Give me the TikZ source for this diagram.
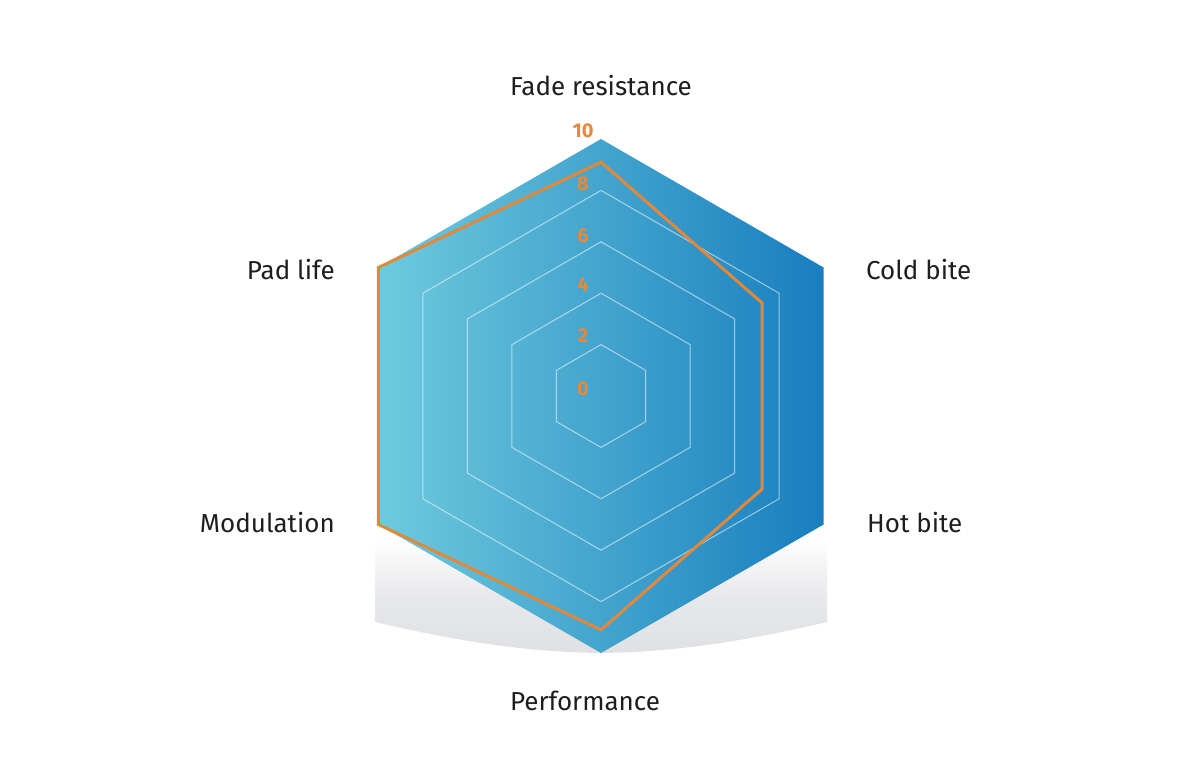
\documentclass[tikz,border=0pt]{standalone}
\usepackage{fontspec}
\setmainfont{Fira Sans}
\definecolor{hexL}{RGB}{110,202,221}
\definecolor{hexR}{RGB}{24,126,190}
\definecolor{dataor}{RGB}{226,136,58}
\definecolor{numor}{RGB}{232,136,56}
\definecolor{txt}{RGB}{30,30,30}
\definecolor{shad}{RGB}{224,225,228}
\begin{document}
\begin{tikzpicture}[x=1pt,y=-1pt,
  axislabel/.style={font=\fontsize{26}{30}\selectfont, text=txt, inner sep=0pt},
  ticklabel/.style={font=\fontsize{20}{24}\selectfont\bfseries, text=numor, inner sep=0pt, anchor=base},
  gridring/.style={draw=white, draw opacity=0.55, line width=1pt},
  dataline/.style={draw=dataor, line width=3pt, line join=miter}]
\useasboundingbox (0,0) rectangle (1200,781);
\def\u{25.7}
% shadow under the hexagon
\shade[top color=white, bottom color=shad, middle color=shad!75!white]
  (375,540) -- (827,540) -- (827,622)
  .. controls (750,640) and (680,652) .. (601,653)
  .. controls (522,652) and (452,640) .. (375,622) -- cycle;
\begin{scope}[shift={(601,396)}]
  % background hexagon
  \shade[left color=hexL, right color=hexR]
    (-90:257) -- (-30:257) -- (30:257) -- (90:257) -- (150:257) -- (210:257) -- cycle;
  % grid rings
  \foreach \v in {2,4,6,8}{
    \draw[gridring] (-90:{\v*\u}) -- (-30:{\v*\u}) -- (30:{\v*\u}) -- (90:{\v*\u})
      -- (150:{\v*\u}) -- (210:{\v*\u}) -- cycle;
  }
  % data points
  \coordinate (dFade) at (-90:{9.1*\u});
  \coordinate (dCold) at (-30:{7.24*\u});
  \coordinate (dHot)  at (30:{7.24*\u});
  \coordinate (dPerf) at (90:{9.1*\u});
  \coordinate (dMod)  at (150:{10*\u});
  \coordinate (dPad)  at (210:{10*\u});
  \draw[dataline] (dFade) -- (dCold) -- (dHot) -- (dPerf) -- (dMod) -- (dPad) -- cycle;
\end{scope}
% tick labels
\node[ticklabel] (t10) at (583,138) {10};
\node[ticklabel] (t8)  at (583,190) {8};
\node[ticklabel] (t6)  at (583,242) {6};
\node[ticklabel] (t4)  at (583,291) {4};
\node[ticklabel] (t2)  at (583,342) {2};
\node[ticklabel] (t0)  at (583,395) {0};
% axis labels
\node[axislabel, anchor=base] (lFade) at (601,96) {Fade resistance};
\node[axislabel, anchor=base west] (lCold) at (866,279) {Cold bite};
\node[axislabel, anchor=base west] (lHot) at (867,532) {Hot bite};
\node[axislabel, anchor=base] (lPerf) at (585,710) {Performance};
\node[axislabel, anchor=base east] (lMod) at (335,532) {Modulation};
\node[axislabel, anchor=base east] (lPad) at (335,279) {Pad life};
\end{tikzpicture}
\end{document}
